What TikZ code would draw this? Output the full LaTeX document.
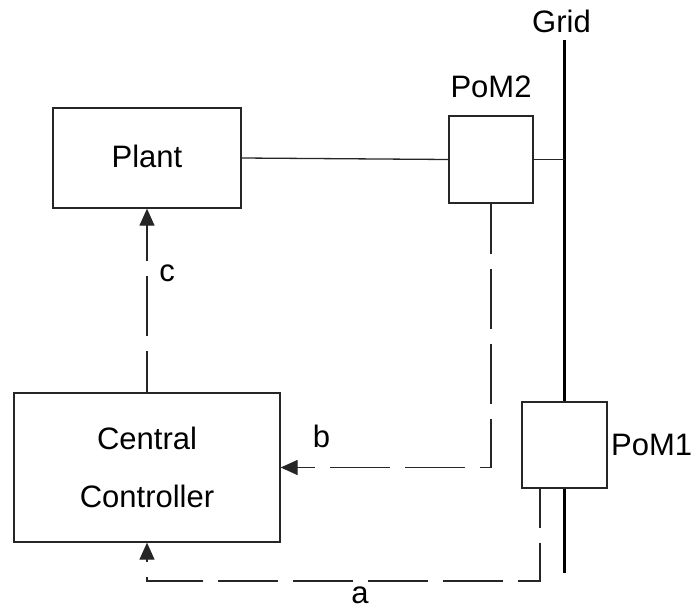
\documentclass[tikz,border=0pt]{standalone}
\usepackage{fontspec}
\setmainfont{Liberation Sans}
\usetikzlibrary{arrows.meta}
\begin{document}
\begin{tikzpicture}[x=1pt,y=-1pt,
  lbl/.style={font=\fontsize{31}{36}\selectfont, inner sep=0pt, anchor=base},
  box/.style={draw=black!85, line width=1.3pt, fill=white, inner sep=0pt,
    font=\fontsize{31}{58}\selectfont, align=center},
  thin/.style={draw=black!85, line width=1.3pt},
  sig/.style={draw=black!85, line width=1.3pt, dash pattern=on 60pt off 15pt},
  arr/.style={-{Triangle[width=15pt,length=17pt]}},
  gridline/.style={draw=black, line width=3.5pt}]
\useasboundingbox (0,0) rectangle (693,610);
% boxes
\node[box, minimum width=188pt, minimum height=100pt] (Plant) at (147,158) {\raisebox{4pt}{Plant}};
\node[box, minimum width=84pt, minimum height=87pt] (PoM2) at (491,159.5) {};
\node[box, minimum width=266pt, minimum height=149pt] (CC) at (147,467.5) {Central\\Controller};
\node[box, minimum width=85pt, minimum height=86pt] (PoM1) at (564.5,445) {};
% grid
\coordinate (gtop) at (564.5,40);
\coordinate (gbot) at (564.5,573);
\draw[gridline] (gtop) -- (PoM1.north);
\draw[gridline] (PoM1.south) -- (gbot);
% power lines
\draw[thin] (Plant.east) -- (PoM2.west);
\draw[thin] (PoM2.east) -- (PoM2.east -| gtop);
% signal lines
\draw[sig, dash phase=19pt, arr] (CC.north) -- (Plant.south);
\draw[sig, dash phase=10pt, arr] (PoM2.south) |- (CC.east);
\coordinate (aS) at ([xshift=-24.5pt]PoM1.south);
\coordinate (aC) at (aS |- 0,581);
\draw[sig, dash phase=21pt, arr] (aS) -- (aC) -| (CC.south);
% labels
\node[lbl] (gridlbl) at (561.5,33) {Grid};
\node[lbl] (pom2lbl) at (491,97) {PoM2};
\node[lbl, anchor=base west] (pom1lbl) at (611,455) {PoM1};
\node[lbl] (clbl) at (167,281) {c};
\node[lbl] (blbl) at (321.5,447) {b};
\node[lbl] (albl) at (360,603) {a};
\end{tikzpicture}
\end{document}
